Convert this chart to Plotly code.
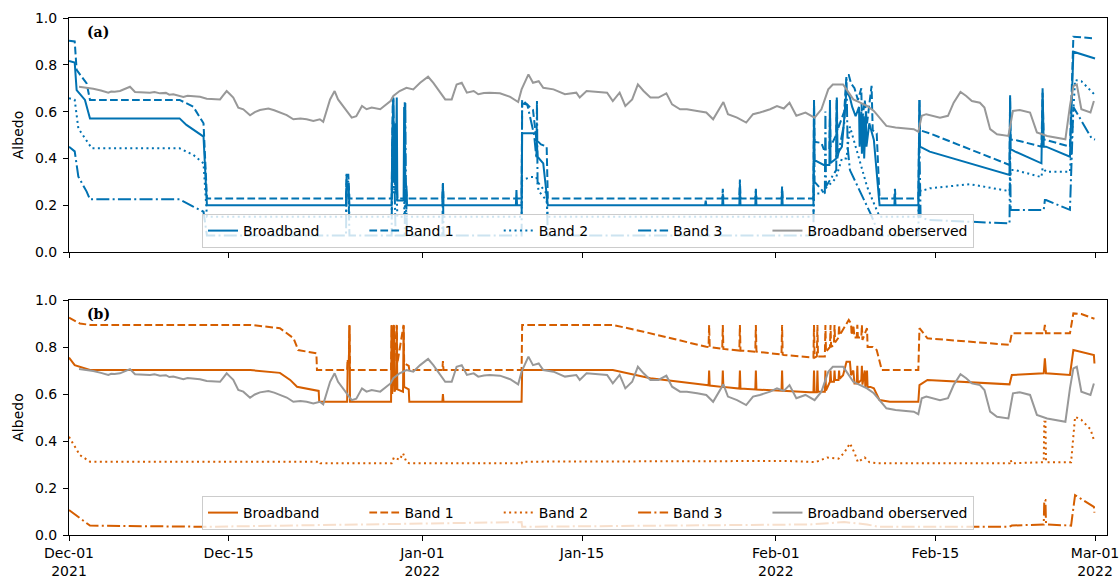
import pandas as pd
import plotly.graph_objects as go

START = pd.Timestamp("2021-12-01")

BLUE = "#0072B2"
ORANGE = "#D55E00"
GRAY = "#989898"

# (day since 2021-12-01, albedo)
OBSERVED = [
    (0.88, 0.706), (1.5, 0.702), (2.13, 0.698), (2.8, 0.690), (3.45, 0.681), (3.7, 0.686),
    (4.0, 0.685), (4.47, 0.688), (5.0, 0.700), (5.35, 0.706), (5.79, 0.684), (6.5, 0.683),
    (7.1, 0.681), (7.5, 0.684), (7.98, 0.678), (8.5, 0.680), (8.8, 0.672), (9.15, 0.674),
    (9.6, 0.670), (10.03, 0.663), (10.4, 0.668), (10.8, 0.666), (11.49, 0.663), (12.08, 0.655),
    (12.7, 0.655), (13.25, 0.652), (13.54, 0.670), (13.83, 0.688), (14.1, 0.675), (14.41, 0.660),
    (14.85, 0.617), (15.29, 0.610), (15.88, 0.584), (16.3, 0.598), (16.75, 0.607), (17.49, 0.613),
    (18.0, 0.606), (18.5, 0.596), (19.1, 0.585), (19.68, 0.567), (20.3, 0.570), (20.85, 0.567),
    (21.43, 0.560), (22.0, 0.567), (22.3, 0.556), (22.9, 0.652), (23.3, 0.688), (23.6, 0.652),
    (24.06, 0.624), (24.8, 0.574), (25.2, 0.580), (25.7, 0.624), (26.1, 0.610), (26.55, 0.617),
    (27.3, 0.610), (27.8, 0.628), (28.2, 0.645), (28.45, 0.667), (29.0, 0.688), (29.6, 0.702),
    (30.2, 0.695), (30.8, 0.723), (31.5, 0.749), (31.96, 0.723), (32.5, 0.688), (33.0, 0.652),
    (33.57, 0.652), (34.0, 0.716), (34.45, 0.723), (34.9, 0.681), (35.5, 0.688), (35.9, 0.674),
    (36.4, 0.679), (36.9, 0.681), (37.8, 0.678), (38.2, 0.672), (38.7, 0.663), (39.4, 0.641),
    (39.7, 0.695), (40.3, 0.759), (40.7, 0.723), (41.2, 0.730), (41.6, 0.702), (42.5, 0.695),
    (43.0, 0.686), (43.5, 0.674), (44.5, 0.681), (44.8, 0.660), (45.4, 0.688), (46.3, 0.684),
    (47.2, 0.681), (47.7, 0.645), (48.3, 0.681), (48.8, 0.624), (49.4, 0.652), (49.9, 0.716),
    (50.4, 0.688), (51.0, 0.660), (51.7, 0.660), (52.4, 0.678), (52.9, 0.631), (53.6, 0.610),
    (54.2, 0.610), (55.1, 0.603), (55.9, 0.596), (56.5, 0.567), (57.0, 0.610), (57.4, 0.641),
    (57.8, 0.589), (58.6, 0.574), (59.4, 0.553), (60.0, 0.589), (60.6, 0.596), (61.5, 0.610),
    (62.1, 0.624), (62.7, 0.613), (63.2, 0.638), (63.8, 0.582), (64.6, 0.596), (65.4, 0.574),
    (66.0, 0.610), (66.6, 0.695), (67.0, 0.716), (67.9, 0.716), (68.2, 0.695), (68.8, 0.652),
    (69.4, 0.638), (70.0, 0.624), (70.6, 0.603), (71.1, 0.574), (71.7, 0.539), (72.5, 0.532),
    (73.3, 0.528), (74.1, 0.525), (74.5, 0.514), (74.8, 0.582), (75.2, 0.589), (75.8, 0.582),
    (76.4, 0.574), (77.1, 0.582), (77.6, 0.638), (78.2, 0.684), (78.7, 0.667), (79.2, 0.645),
    (79.9, 0.638), (80.3, 0.617), (80.8, 0.525), (81.4, 0.503), (82.4, 0.496), (82.8, 0.603),
    (83.4, 0.607), (84.3, 0.596), (84.9, 0.511), (85.8, 0.496), (86.6, 0.489), (87.4, 0.482),
    (87.8, 0.624), (88.1, 0.709), (88.4, 0.716), (88.8, 0.610), (89.6, 0.596), (89.9, 0.645),
]

# ---- panel (a) modelled albedo ----
A_BROADBAND = [
    (0, 0.816), (0.5, 0.81), (0.67, 0.692), (1.4, 0.65), (1.84, 0.571), (9.7, 0.571),
    (10.3, 0.543), (11.2, 0.514), (11.8, 0.493), (12.1, 0.20),
    (24.3, 0.20), (24.35, 0.29), (24.5, 0.29), (24.6, 0.20),
    (28.3, 0.20), (28.35, 0.45), (28.45, 0.66), (28.5, 0.30), (28.6, 0.55), (28.65, 0.25),
    (28.75, 0.66), (28.8, 0.22), (29.35, 0.22), (29.4, 0.62), (29.45, 0.30), (29.6, 0.28),
    (29.65, 0.20), (32.75, 0.20), (32.8, 0.29), (32.85, 0.20), (39.2, 0.20), (39.25, 0.265),
    (39.3, 0.20), (39.7, 0.20), (39.75, 0.507), (41.0, 0.507), (41.1, 0.407), (41.6, 0.379),
    (42.0, 0.20), (55.8, 0.20), (55.85, 0.22), (55.9, 0.20), (57.3, 0.20), (57.35, 0.25),
    (57.4, 0.20), (58.8, 0.20), (58.85, 0.29), (58.9, 0.20), (60.2, 0.20), (60.25, 0.26),
    (60.3, 0.20), (62.5, 0.20), (62.55, 0.27), (62.6, 0.20), (65.3, 0.20), (65.35, 0.65),
    (65.4, 0.393), (66.2, 0.372), (66.7, 0.372), (66.75, 0.65), (66.8, 0.38), (67.3, 0.40),
    (67.35, 0.66), (67.4, 0.42), (67.8, 0.45), (68.2, 0.692), (68.5, 0.66), (68.7, 0.62),
    (69.0, 0.58), (69.3, 0.62), (69.35, 0.45), (69.5, 0.60), (69.55, 0.42), (69.7, 0.58),
    (69.75, 0.40), (69.9, 0.60), (69.95, 0.45), (70.2, 0.55), (70.6, 0.479), (71.1, 0.20),
    (72.4, 0.20), (72.45, 0.25), (72.5, 0.20), (74.5, 0.20), (74.6, 0.65), (74.65, 0.45),
    (75.5, 0.429), (82.5, 0.329), (82.55, 0.67), (82.6, 0.44), (83.0, 0.429), (85.3, 0.379),
    (85.4, 0.70), (85.5, 0.45), (85.7, 0.45), (87.8, 0.407), (88.1, 0.856), (90.0, 0.827),
]

A_BAND1 = [
    (0, 0.903), (0.5, 0.90), (0.67, 0.778), (1.55, 0.72), (1.84, 0.65), (9.7, 0.65),
    (10.9, 0.621), (11.8, 0.55), (12.1, 0.229),
    (24.3, 0.229), (24.35, 0.33), (24.5, 0.33), (24.6, 0.229),
    (28.3, 0.229), (28.4, 0.66), (28.5, 0.35), (28.7, 0.40), (28.8, 0.229), (29.4, 0.229),
    (29.45, 0.64), (29.5, 0.30), (29.65, 0.229), (32.75, 0.229), (32.8, 0.29), (32.85, 0.229),
    (39.7, 0.229), (39.75, 0.65), (40.7, 0.607), (41.0, 0.479), (41.4, 0.46), (41.9, 0.45),
    (42.0, 0.229), (57.3, 0.229), (57.35, 0.27), (57.4, 0.229), (58.8, 0.229), (58.85, 0.31),
    (58.9, 0.229), (60.2, 0.229), (60.25, 0.27), (60.3, 0.229), (62.5, 0.229), (62.55, 0.28),
    (62.6, 0.229), (65.3, 0.229), (65.35, 0.65), (65.4, 0.471), (66.0, 0.466), (66.2, 0.44),
    (66.7, 0.44), (66.75, 0.60), (66.8, 0.45), (67.3, 0.50), (67.35, 0.65), (67.4, 0.52),
    (68.0, 0.60), (68.2, 0.756), (68.4, 0.756), (68.6, 0.72), (68.9, 0.70), (69.2, 0.65),
    (69.5, 0.70), (69.55, 0.55), (69.8, 0.65), (70.0, 0.55), (70.4, 0.71), (70.5, 0.52),
    (70.85, 0.507), (71.1, 0.229), (72.4, 0.229), (72.45, 0.27), (72.5, 0.229), (74.5, 0.229),
    (74.6, 0.65), (74.65, 0.52), (75.5, 0.507), (82.5, 0.372), (82.55, 0.66), (82.6, 0.48),
    (83.0, 0.479), (85.3, 0.45), (85.4, 0.68), (85.5, 0.48), (85.7, 0.479), (87.8, 0.45),
    (88.1, 0.92), (90.0, 0.913),
]

A_BAND2 = [
    (0, 0.657), (0.5, 0.65), (0.82, 0.528), (1.7, 0.464), (2.0, 0.443), (9.7, 0.443),
    (10.9, 0.415), (11.8, 0.379), (12.1, 0.151),
    (24.3, 0.151), (24.35, 0.25), (24.5, 0.25), (24.6, 0.151),
    (28.3, 0.151), (28.4, 0.45), (28.5, 0.25), (28.7, 0.35), (28.8, 0.151), (29.4, 0.151),
    (29.45, 0.40), (29.5, 0.20), (29.65, 0.151),
    (39.7, 0.151), (39.75, 0.308), (40.5, 0.32), (41.0, 0.32), (41.2, 0.26), (41.9, 0.22),
    (42.0, 0.151), (65.3, 0.151), (65.35, 0.25), (66.0, 0.25), (66.5, 0.28), (67.0, 0.30),
    (67.3, 0.32), (67.8, 0.40), (68.2, 0.40), (68.5, 0.536), (69.0, 0.45), (69.5, 0.36),
    (70.0, 0.28), (70.5, 0.22), (71.1, 0.151), (74.5, 0.151), (74.6, 0.30), (74.7, 0.26),
    (75.5, 0.272), (79.0, 0.29), (82.5, 0.26), (82.6, 0.35), (83.0, 0.35), (85.3, 0.32),
    (85.4, 0.36), (85.7, 0.343), (87.8, 0.343), (88.25, 0.735), (88.8, 0.73), (90.0, 0.671),
]

A_BAND3 = [
    (0, 0.45), (0.5, 0.43), (0.82, 0.322), (1.55, 0.258), (1.84, 0.225), (9.7, 0.225),
    (10.9, 0.194), (11.8, 0.172), (12.1, 0.07),
    (24.3, 0.07), (24.35, 0.33), (24.5, 0.30), (24.6, 0.07),
    (28.3, 0.07), (28.35, 0.40), (28.45, 0.66), (28.55, 0.30), (28.65, 0.07), (29.45, 0.07),
    (29.5, 0.64), (29.55, 0.30), (29.65, 0.07), (32.75, 0.07), (32.8, 0.30), (32.85, 0.07),
    (39.7, 0.07), (39.75, 0.635), (40.2, 0.63), (40.8, 0.50), (41.0, 0.40), (41.05, 0.65),
    (41.1, 0.30), (41.9, 0.25), (42.0, 0.07), (65.3, 0.07), (65.35, 0.55), (65.4, 0.30),
    (66.3, 0.25), (66.35, 0.60), (66.4, 0.28), (67.3, 0.35), (67.35, 0.65), (67.4, 0.40),
    (68.0, 0.55), (68.2, 0.74), (68.3, 0.45), (68.5, 0.35), (70.3, 0.165), (71.1, 0.07),
    (74.5, 0.07), (74.6, 0.45), (74.7, 0.15), (75.3, 0.137), (82.5, 0.122), (82.55, 0.45),
    (82.6, 0.18), (83.0, 0.18), (85.5, 0.18), (85.6, 0.222), (85.7, 0.222), (87.8, 0.18),
    (88.1, 0.62), (89.7, 0.486), (90.0, 0.48),
]

# ---- panel (b) modelled albedo ----
B_BROADBAND = [
    (0, 0.755), (0.5, 0.723), (1.84, 0.702), (15.9, 0.702), (18.5, 0.69), (19.4, 0.66),
    (20.0, 0.631), (20.85, 0.624), (21.9, 0.613), (21.95, 0.567),
    (24.4, 0.567), (24.45, 0.74), (24.55, 0.74), (24.6, 0.89), (24.65, 0.567),
    (28.25, 0.567), (28.3, 0.89), (28.35, 0.60), (28.5, 0.89), (28.55, 0.61), (28.7, 0.63),
    (28.75, 0.89), (28.8, 0.62), (29.3, 0.61), (29.35, 0.89), (29.4, 0.63), (29.8, 0.62),
    (29.85, 0.567), (32.75, 0.567), (32.8, 0.60), (32.85, 0.567),
    (39.7, 0.567), (39.75, 0.702), (47.7, 0.702), (51.0, 0.667), (55.9, 0.638),
    (56.1, 0.637), (56.15, 0.70), (56.2, 0.636), (57.3, 0.630), (57.35, 0.70), (57.4, 0.630),
    (58.6, 0.624), (58.8, 0.623), (58.85, 0.70), (58.9, 0.623), (60.2, 0.619), (60.25, 0.70),
    (60.3, 0.619), (62.5, 0.614), (62.55, 0.70), (62.6, 0.614), (65.0, 0.607),
    (65.3, 0.607), (65.35, 0.70), (65.4, 0.607), (65.6, 0.607), (65.65, 0.70), (65.7, 0.61),
    (66.3, 0.61), (66.35, 0.70), (66.4, 0.615), (66.75, 0.652), (66.8, 0.70), (66.85, 0.652),
    (67.1, 0.652), (67.15, 0.70), (67.2, 0.66), (67.5, 0.66), (67.55, 0.70), (67.6, 0.665),
    (67.9, 0.68), (68.2, 0.737), (68.5, 0.737), (68.6, 0.68), (68.8, 0.70), (68.9, 0.645),
    (69.1, 0.645), (69.15, 0.72), (69.2, 0.645), (69.5, 0.66), (69.55, 0.72), (69.6, 0.64),
    (69.8, 0.70), (69.85, 0.63), (70.0, 0.70), (70.05, 0.63), (70.3, 0.63), (70.6, 0.624),
    (71.1, 0.574), (72.0, 0.567), (74.5, 0.567), (74.6, 0.638), (75.3, 0.66), (82.5, 0.641),
    (82.7, 0.681), (85.5, 0.688), (85.6, 0.752), (85.7, 0.688), (87.8, 0.681), (88.1, 0.787),
    (88.8, 0.780), (89.9, 0.766), (89.95, 0.73),
]

B_BAND1 = [
    (0, 0.925), (0.96, 0.90), (1.84, 0.894), (15.9, 0.894), (18.5, 0.88), (19.7, 0.837),
    (20.1, 0.787), (21.7, 0.773), (21.75, 0.702),
    (24.4, 0.702), (24.45, 0.745), (24.55, 0.745), (24.6, 0.894), (24.65, 0.702),
    (28.25, 0.702), (28.3, 0.894), (28.35, 0.74), (28.5, 0.894), (28.55, 0.74),
    (28.75, 0.894), (28.8, 0.73), (29.35, 0.894), (29.4, 0.73), (29.8, 0.72), (29.85, 0.702),
    (32.75, 0.702), (32.8, 0.74), (32.85, 0.702),
    (39.7, 0.702), (39.75, 0.894), (47.7, 0.894), (50.4, 0.865), (55.9, 0.801),
    (56.1, 0.800), (56.15, 0.894), (56.2, 0.800), (57.3, 0.792), (57.35, 0.894), (57.4, 0.792),
    (58.8, 0.785), (58.85, 0.894), (58.9, 0.785), (60.2, 0.780), (60.25, 0.894), (60.3, 0.780),
    (62.5, 0.768), (62.55, 0.894), (62.6, 0.768), (62.7, 0.766), (65.3, 0.755),
    (65.35, 0.894), (65.4, 0.755), (65.6, 0.76), (65.65, 0.894), (65.7, 0.76), (66.3, 0.76),
    (66.35, 0.894), (66.4, 0.78), (66.75, 0.80), (66.8, 0.894), (66.85, 0.80), (67.1, 0.81),
    (67.15, 0.894), (67.2, 0.82), (67.5, 0.84), (67.55, 0.894), (67.6, 0.85), (68.0, 0.88),
    (68.4, 0.915), (68.6, 0.90), (68.65, 0.85), (68.8, 0.894), (68.9, 0.84), (69.1, 0.84),
    (69.15, 0.894), (69.2, 0.84), (69.5, 0.84), (69.55, 0.894), (69.6, 0.83), (70.0, 0.88),
    (70.05, 0.80), (70.5, 0.80), (70.85, 0.787), (71.3, 0.702), (74.5, 0.702), (74.6, 0.88),
    (75.3, 0.837), (82.5, 0.809), (82.7, 0.858), (85.5, 0.858), (85.6, 0.894), (85.7, 0.858),
    (87.8, 0.858), (88.1, 0.943), (88.8, 0.94), (89.95, 0.92),
]

B_BAND2 = [
    (0, 0.418), (0.96, 0.34), (1.84, 0.312), (22.0, 0.312), (22.05, 0.305), (28.3, 0.305),
    (28.5, 0.33), (29.0, 0.32), (29.3, 0.348), (29.6, 0.31), (29.85, 0.305), (39.7, 0.305),
    (39.75, 0.312), (62.0, 0.312), (63.0, 0.315), (65.5, 0.31), (66.0, 0.32), (66.5, 0.33),
    (67.5, 0.325), (68.0, 0.35), (68.5, 0.39), (68.9, 0.35), (69.2, 0.31), (69.8, 0.33),
    (70.2, 0.31), (71.0, 0.305), (82.5, 0.305), (82.6, 0.32), (82.7, 0.305), (85.5, 0.31),
    (85.55, 0.482), (85.65, 0.482), (85.7, 0.31), (87.9, 0.31), (88.25, 0.503), (88.8, 0.49),
    (89.6, 0.45), (89.95, 0.397),
]

B_BAND3 = [
    (0, 0.106), (0.96, 0.071), (1.84, 0.04), (12.0, 0.035), (20.0, 0.04), (39.7, 0.055),
    (39.75, 0.035), (65.0, 0.045), (68.0, 0.055), (70.0, 0.045), (71.0, 0.035), (82.5, 0.035),
    (82.7, 0.04), (85.5, 0.045), (85.55, 0.149), (85.65, 0.149), (85.7, 0.045), (87.9, 0.04),
    (88.25, 0.17), (89.9, 0.12), (89.95, 0.095),
]

TICK_DATES = ["2021-12-01", "2021-12-15", "2022-01-01", "2022-01-15",
              "2022-02-01", "2022-02-15", "2022-03-01"]
TICK_TEXT = ["Dec-01<br>2021", "Dec-15", "Jan-01<br>2022", "Jan-15",
             "Feb-01<br>2022", "Feb-15", "Mar-01<br>2022"]
Y_TICKS = [0.0, 0.2, 0.4, 0.6, 0.8, 1.0]

NAMES = ["Broadband", "Band 1", "Band 2", "Band 3", "Broadband oberserved"]
DASHES = ["solid", "7.7px,3.3px", "2px,3.4px", "13px,3.3px,2px,3.3px"]
PAD = "\u00a0" * 9  # column spacing between legend entries


def unpack(points):
    days, vals = zip(*points)
    dates = START + pd.to_timedelta(list(days), unit="D")
    return dates, list(vals)


fig = go.Figure()

panels = [
    ("x", "y", "legend", BLUE, [A_BROADBAND, A_BAND1, A_BAND2, A_BAND3]),
    ("x2", "y2", "legend2", ORANGE, [B_BROADBAND, B_BAND1, B_BAND2, B_BAND3]),
]
for xa, ya, leg, color, series in panels:
    for name, dash, pts in zip(NAMES[:4], DASHES, series):
        x, y = unpack(pts)
        fig.add_trace(go.Scatter(
            x=x, y=y, mode="lines", name=name + PAD, legend=leg,
            xaxis=xa, yaxis=ya,
            line=dict(color=color, width=2, dash=dash),
        ))
    x, y = unpack(OBSERVED)
    fig.add_trace(go.Scatter(
        x=x, y=y, mode="lines", name=NAMES[4], legend=leg,
        xaxis=xa, yaxis=ya, line=dict(color=GRAY, width=2),
    ))

FONT = "DejaVu Sans"
x_range = [START, START + pd.Timedelta(days=91.05)]
axis_common = dict(
    showline=True, linecolor="black", linewidth=1, mirror=True,
    ticks="outside", ticklen=5, tickwidth=1, tickcolor="black",
    showgrid=False, zeroline=False, automargin=False, ticklabeloverflow="allow",
    tickfont=dict(family=FONT, size=14, color="black"),
)
xcommon = dict(axis_common, range=x_range, tickvals=TICK_DATES, ticktext=TICK_TEXT)
ycommon = dict(axis_common, range=[0, 1], tickvals=Y_TICKS,
               ticktext=[f"{v:.1f}" for v in Y_TICKS], ticklabelstandoff=3,
               title=dict(text="Albedo", font=dict(family=FONT, size=14, color="black"),
                          standoff=8))

H_PLOT = 517.0
dom_a = [(535 - 252) / H_PLOT, 1.0]
dom_b = [0.0, 235 / H_PLOT]

legend_common = dict(
    orientation="h", xanchor="center", x=0.5, yanchor="bottom",
    bgcolor="rgba(255,255,255,0.8)", bordercolor="#cccccc", borderwidth=1,
    font=dict(family=FONT, size=14, color="black"),
    itemwidth=30, tracegroupgap=0,
)

fig.update_layout(
    width=1119, height=578,
    margin=dict(l=69, r=12, t=18, b=43, autoexpand=False),
    paper_bgcolor="white", plot_bgcolor="white",
    font=dict(family=FONT, size=14, color="black"),
    xaxis=dict(xcommon, domain=[0, 1], anchor="y", showticklabels=False),
    yaxis=dict(ycommon, domain=dom_a, anchor="x"),
    xaxis2=dict(xcommon, domain=[0, 1], anchor="y2"),
    yaxis2=dict(ycommon, domain=dom_b, anchor="x2"),
    legend=dict(legend_common, y=(535 - 248) / H_PLOT),
    legend2=dict(legend_common, y=(535 - 530) / H_PLOT),
    showlegend=True,
    annotations=[
        dict(text="<b>(a)</b>", xref="x domain", yref="y domain", x=0.015, y=0.94,
             xanchor="left", yanchor="middle", showarrow=False,
             font=dict(family="DejaVu Serif", size=14, color="black")),
        dict(text="<b>(b)</b>", xref="x2 domain", yref="y2 domain", x=0.015, y=0.94,
             xanchor="left", yanchor="middle", showarrow=False,
             font=dict(family="DejaVu Serif", size=14, color="black")),
    ],
)

fig.write_html("out.html")
